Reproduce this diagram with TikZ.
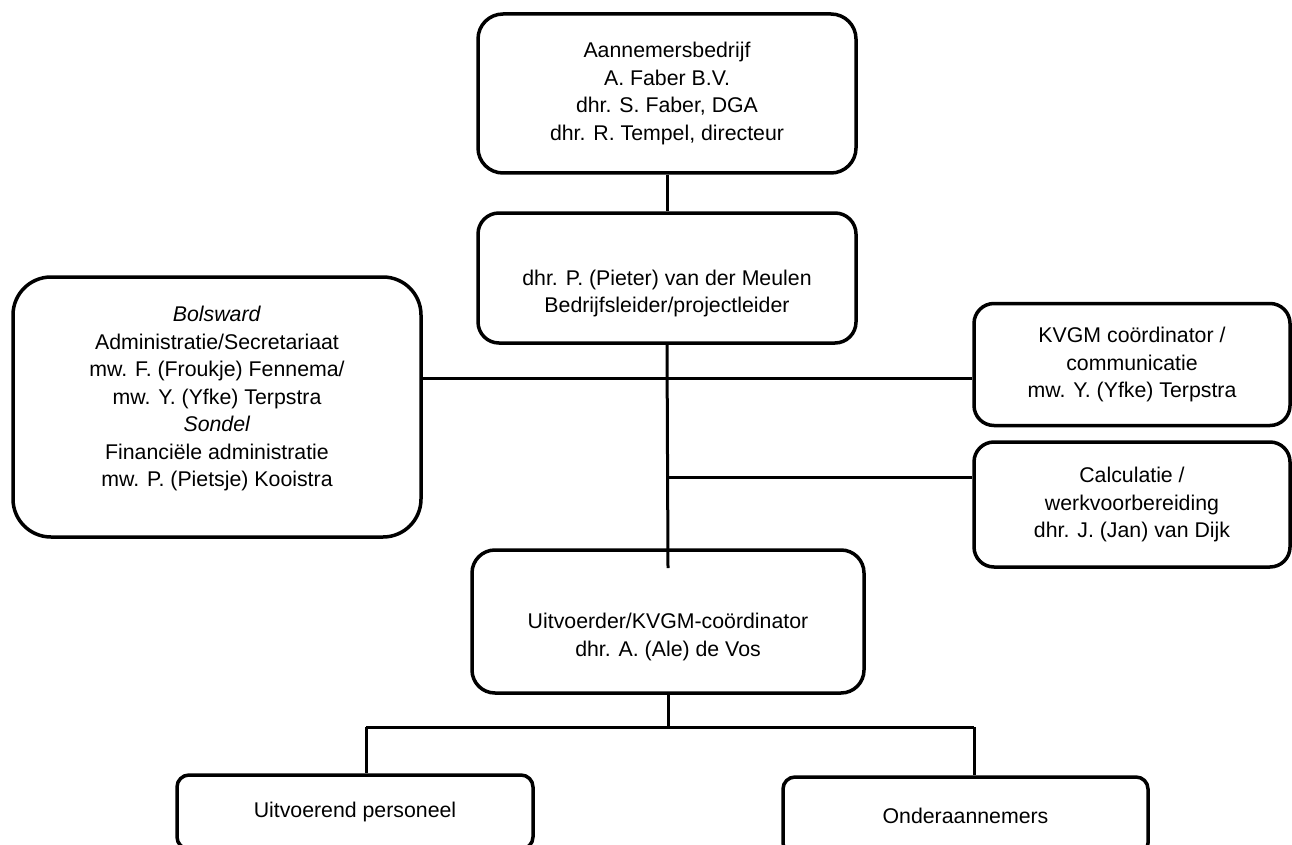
\documentclass[tikz,border=0pt]{standalone}
\usepackage{fontspec}
\setmainfont{Liberation Sans}
\usetikzlibrary{calc}

\begin{document}
\begin{tikzpicture}[
        %We set the units and define some styles
        x=1pt, y=-1pt,
        orgbox/.style={draw, rectangle, line width=3.5pt, rounded corners=#1,
            align=center, inner sep=0pt,
            font=\fontsize{21.3pt}{27.5pt}\selectfont},
        orgbox/.default=24pt,
        connector/.style={line width=3pt},
    ]
    \clip (0,0) rectangle (1292,845);
    % the boxes
    \node[orgbox=25pt, minimum width=378pt, minimum height=159pt] (bedrijf) at (667,93.5)
        {Aannemersbedrijf\\A. Faber B.V.\\dhr. S. Faber, DGA\\dhr. R. Tempel, directeur};
    \node[orgbox=21pt, minimum width=378pt, minimum height=130pt] (leider) at (667,278)
        {\strut\\dhr. P. (Pieter) van der Meulen\\Bedrijfsleider/projectleider};
    \node[orgbox=38pt, minimum width=408pt, minimum height=260pt] (kantoor) at (217,407)
        {\textit{Bolsward}\\Administratie/Secretariaat\\mw. F. (Froukje) Fennema/\\
         mw. Y. (Yfke) Terpstra\\\textit{Sondel}\\Financiële administratie\\
         mw. P. (Pietsje) Kooistra\\[-15pt]\strut};
    \node[orgbox=20pt, minimum width=316pt, minimum height=122pt] (kvgm) at (1132,364.5)
        {KVGM coördinator /\\communicatie\\mw. Y. (Yfke) Terpstra};
    \node[orgbox=20pt, minimum width=316pt, minimum height=125pt] (calc) at (1132,504.5)
        {Calculatie /\\werkvoorbereiding\\dhr. J. (Jan) van Dijk};
    \node[orgbox=23pt, minimum width=392pt, minimum height=143pt] (uitvoerder) at (668,621.5)
        {\strut\\Uitvoerder/KVGM-coördinator\\dhr. A. (Ale) de Vos};
    \node[orgbox=12pt, minimum width=356pt, minimum height=74pt] (personeel) at (355,812)
        {Uitvoerend personeel};
    \node[orgbox=12pt, minimum width=365pt, minimum height=78pt] (onder) at (965.5,816)
        {Onderaannemers};

    % Important coordinates are defined
    \coordinate (kruis) at (668,378);
    \coordinate (aftak) at (668,477);
    \coordinate (steek) at (668,568);
    \coordinate (splits) at (668,727);
    \coordinate (links) at (366,727);
    \coordinate (rechts) at (974,727);

    % connectors
    \draw[connector] (bedrijf.south) -- (leider.north);
    \draw[connector] (leider.south) -- (steek);
    \draw[connector] (kantoor.east |- kruis) -- (kvgm.west |- kruis);
    \draw[connector] (aftak) -- (calc.west |- aftak);
    \draw[connector] (uitvoerder.south) -- (splits);
    \draw[connector] (links) -- (rechts);
    \draw[connector] (links) -- (links |- personeel.north);
    \draw[connector] (rechts) -- (rechts |- onder.north);
\end{tikzpicture}
\end{document}
